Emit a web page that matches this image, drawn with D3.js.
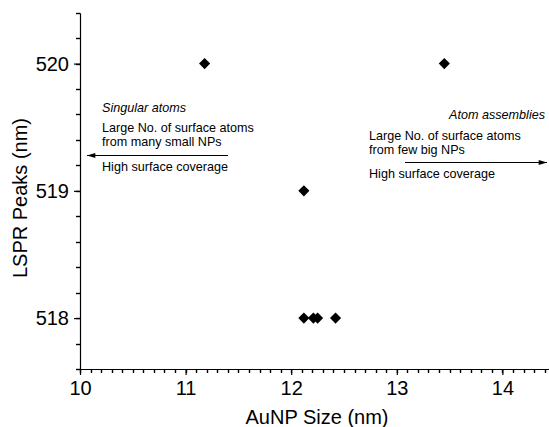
<!DOCTYPE html>
<html lang="en">
<head>
  <meta charset="utf-8">
  <title>LSPR peaks vs AuNP size</title>
  <script src="https://d3js.org/d3.v7.min.js"></script>
  <style>
  body { margin: 0; background: #fff; }
  text { font-family: "Liberation Sans", Arial, sans-serif; fill: #000; }
  .domain { stroke: #000; stroke-width: 1.2; }
  .tick line { stroke: #000; stroke-width: 1.2; }
  .minor { stroke: #000; stroke-width: 1.4; }
  </style>
</head>
<body>
  <script>
  // data
  var sizes = [11.18, 13.45, 12.12, 12.12, 12.21, 12.25, 12.42];
  var peaks = [520, 520, 519, 518, 518, 518, 518];
  var xTicks = [10, 11, 12, 13, 14];
  var yTicks = [518, 519, 520];

  var width = 549;
  var height = 427;

  var svg = d3.select("body")
    .append("svg")
    .attr("width", width)
    .attr("height", height);

  var x = d3.scaleLinear().domain([10, 14.5]).range([80, 80 + 4.5 * 105.6]);
  var y = d3.scaleLinear().domain([517.6, 520.4]).range([369, 12.7]);

  // minor ticks
  var xMinor = d3.range(100, 146).map(function(d){ return d / 10; });
  var yMinor = d3.range(0, 15).map(function(d){ return 517.6 + d * 0.2; });

  svg.append("g")
    .selectAll("line")
    .data(xMinor)
    .enter()
    .append("line")
    .attr("class", "minor")
    .attr("x1", function(d){ return Math.round(x(d)) + 0.5; })
    .attr("x2", function(d){ return Math.round(x(d)) + 0.5; })
    .attr("y1", y(517.6))
    .attr("y2", y(517.6) + 4);

  svg.append("g")
    .selectAll("line")
    .data(yMinor)
    .enter()
    .append("line")
    .attr("class", "minor")
    .attr("y1", function(d){ return Math.round(y(d)) + 0.5; })
    .attr("y2", function(d){ return Math.round(y(d)) + 0.5; })
    .attr("x1", x(10))
    .attr("x2", x(10) - 4);

  svg.append("g")
    .attr("transform", "translate(0," + y(517.6) + ")")
    .call(d3.axisBottom(x).tickValues(xTicks).tickSize(6).tickPadding(6)
      .tickSizeOuter(0).tickFormat(d3.format("d")))
    .call(function(g){ g.selectAll("text").style("font-size", "20px"); });

  svg.append("g")
    .attr("transform", "translate(" + x(10) + ",0)")
    .call(d3.axisLeft(y).tickValues(yTicks).tickSize(6).tickPadding(5)
      .tickSizeOuter(0).tickFormat(d3.format("d")))
    .call(function(g){ g.selectAll("text").style("font-size", "20px"); });

  // axis titles
  svg.append("text")
    .attr("x", 317)
    .attr("y", 424)
    .attr("text-anchor", "middle")
    .style("font-size", "20px")
    .text("AuNP Size (nm)");

  svg.append("text")
    .attr("transform", "translate(27,198) rotate(-90)")
    .attr("text-anchor", "middle")
    .style("font-size", "20px")
    .text("LSPR Peaks (nm)");

  // points
  var diamond = d3.symbol().type(d3.symbolSquare).size(62);
  svg.append("g")
    .selectAll("path")
    .data(sizes)
    .enter()
    .append("path")
    .attr("d", diamond)
    .attr("fill", "#000")
    .attr("transform", function(d, i){
      return "translate(" + x(d) + "," + y(peaks[i]) + ") rotate(45)";
    });

  // arrow heads
  svg.append("defs").append("marker")
    .attr("id", "head")
    .attr("viewBox", "0 0 10 6")
    .attr("refX", 10)
    .attr("refY", 3)
    .attr("markerWidth", 10)
    .attr("markerHeight", 5)
    .attr("markerUnits", "userSpaceOnUse")
    .attr("orient", "auto")
    .append("path")
    .attr("d", "M0,0L10,3L0,6Z")
    .attr("fill", "#000");

  // left annotation
  var left = svg.append("g").style("font-size", "12.6px");
  left.append("text").attr("x", 102).attr("y", 112).style("font-style", "italic").text("Singular atoms");
  left.append("text").attr("x", 102).attr("y", 132).text("Large No. of surface atoms");
  left.append("text").attr("x", 102).attr("y", 146).text("from many small NPs");
  left.append("text").attr("x", 102).attr("y", 171).text("High surface coverage");
  svg.append("line")
    .attr("x1", 228).attr("y1", 155.5).attr("x2", 87).attr("y2", 155.5)
    .attr("stroke", "#000").attr("stroke-width", 1)
    .attr("marker-end", "url(#head)");

  // right annotation
  var right = svg.append("g").style("font-size", "12.6px");
  right.append("text").attr("x", 545).attr("y", 119).attr("text-anchor", "end").style("font-style", "italic").text("Atom assemblies");
  right.append("text").attr("x", 369).attr("y", 140).text("Large No. of surface atoms");
  right.append("text").attr("x", 369).attr("y", 154).text("from few big NPs");
  right.append("text").attr("x", 369).attr("y", 178).text("High surface coverage");
  svg.append("line")
    .attr("x1", 405).attr("y1", 162.5).attr("x2", 547).attr("y2", 162.5)
    .attr("stroke", "#000").attr("stroke-width", 1)
    .attr("marker-end", "url(#head)");
  </script>
</body>
</html>
